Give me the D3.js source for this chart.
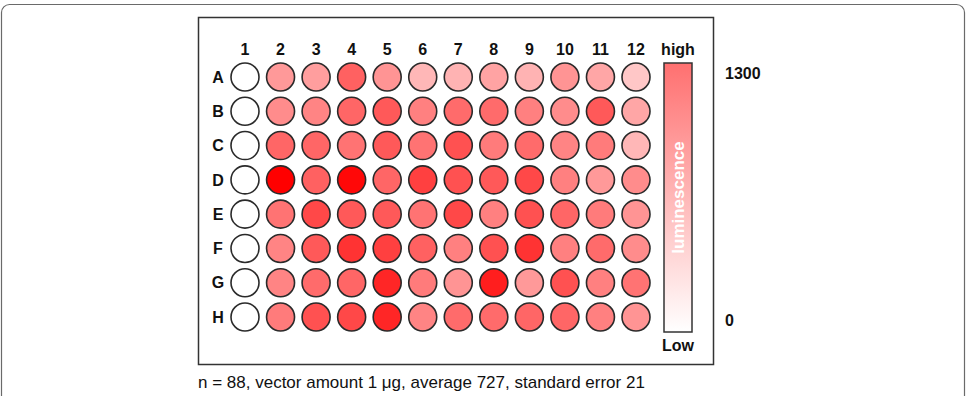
<!DOCTYPE html>
<html>
<head>
<meta charset="utf-8">
<script src="https://cdn.jsdelivr.net/npm/d3@7"></script>
<style>
	body { margin: 0; background: #fff; }
	svg { display: block; font-family: "Liberation Sans", Arial, Helvetica, sans-serif; }
	.lab { font-weight: bold; font-size: 16px; fill: #111; }
</style>
</head>
<body>
<svg id="plate" width="967" height="396"></svg>
<script>
// plate layout
let rows = ["A", "B", "C", "D", "E", "F", "G", "H"],
	cols = ["1", "2", "3", "4", "5", "6", "7", "8", "9", "10", "11", "12"];

// luminescence per well, row by row (column 1 = no vector)
let rowA = [0, 520, 495, 805, 545, 365, 390, 470, 390, 545, 455, 285],
	rowB = [0, 585, 625, 780, 845, 650, 755, 755, 650, 585, 845, 455],
	rowC = [0, 780, 780, 715, 845, 715, 885, 675, 755, 625, 675, 365],
	rowD = [0, 1300, 805, 1260, 780, 975, 885, 845, 935, 650, 520, 585],
	rowE = [0, 715, 935, 845, 845, 715, 935, 650, 885, 780, 675, 545],
	rowF = [0, 625, 845, 1040, 975, 805, 650, 885, 1040, 650, 755, 585],
	rowG = [0, 625, 755, 780, 1105, 675, 545, 1145, 520, 885, 650, 715],
	rowH = [0, 675, 885, 935, 1105, 625, 755, 755, 780, 780, 650, 545];

let scaleMin = 0, scaleMax = 1300;
let caption = "n = 88, vector amount 1 \u03bcg, average 727, standard error 21";

let svg = d3.select("svg#plate");

let wells = [];
[rowA, rowB, rowC, rowD, rowE, rowF, rowG, rowH].forEach(function(vals, i) {
	vals.forEach(function(v, j) { wells.push({ row: rows[i], col: cols[j], value: v }); });
});

let x = d3.scalePoint().domain(cols).range([245, 636]),
	y = d3.scalePoint().domain(rows).range([77, 317]);

let color = d3.scaleLinear()
	.domain([scaleMin, scaleMax])
	.range(["#ffffff", "#ff0000"]);

// outer frame (figure panel)
svg.append("rect")
	.attr("x", 1.5).attr("y", 4.5)
	.attr("width", 963).attr("height", 460)
	.attr("rx", 8)
	.attr("fill", "none")
	.attr("stroke", "#6a6a6a")
	.attr("stroke-width", 1.2);

// inner box
svg.append("rect")
	.attr("x", 198.5).attr("y", 17.5)
	.attr("width", 515).attr("height", 347)
	.attr("fill", "#fff")
	.attr("stroke", "#333")
	.attr("stroke-width", 1.5);

// column labels
svg.selectAll("text.col")
	.data(cols)
	.enter().append("text")
	.attr("class", "lab col")
	.attr("x", function(d) { return x(d); })
	.attr("y", 55)
	.attr("text-anchor", "middle")
	.text(function(d) { return d; });

// row labels
svg.selectAll("text.row")
	.data(rows)
	.enter().append("text")
	.attr("class", "lab row")
	.attr("x", 218)
	.attr("y", function(d) { return y(d); })
	.attr("dy", "0.36em")
	.attr("text-anchor", "middle")
	.text(function(d) { return d; });

// wells
svg.selectAll("circle.well")
	.data(wells)
	.enter().append("circle")
	.attr("class", "well")
	.attr("cx", function(d) { return x(d.col); })
	.attr("cy", function(d) { return y(d.row); })
	.attr("r", 14)
	.attr("fill", function(d) { return color(d.value); })
	.attr("stroke", "#2a2a2a")
	.attr("stroke-width", 1.6);

// colour bar
let barY = d3.scaleLinear().domain([scaleMin, scaleMax]).range([332, 63]),
	tickY = d3.scaleLinear().domain([scaleMin, scaleMax]).range([320, 73]);

let grad = svg.append("defs").append("linearGradient")
	.attr("id", "lum")
	.attr("x1", 0).attr("y1", 1).attr("x2", 0).attr("y2", 0);
grad.append("stop").attr("offset", "0%").attr("stop-color", "#ffffff");
grad.append("stop").attr("offset", "100%").attr("stop-color", "#ff7070");

svg.append("rect")
	.attr("x", 664).attr("y", barY(scaleMax))
	.attr("width", 28).attr("height", barY(scaleMin) - barY(scaleMax))
	.attr("fill", "url(#lum)")
	.attr("stroke", "#333")
	.attr("stroke-width", 1.5);

svg.append("text")
	.attr("transform", "translate(684," + (barY(scaleMin) + barY(scaleMax)) / 2 + ") rotate(-90)")
	.attr("text-anchor", "middle")
	.style("font-weight", "bold")
	.style("font-size", "17px")
	.attr("fill", "#fff")
	.text("luminescence");

svg.append("text").attr("class", "lab")
	.attr("x", 678).attr("y", 55)
	.attr("text-anchor", "middle")
	.text("high");

svg.append("text").attr("class", "lab")
	.attr("x", 678).attr("y", 351)
	.attr("text-anchor", "middle")
	.text("Low");

svg.selectAll("text.tick")
	.data([scaleMax, scaleMin])
	.enter().append("text")
	.attr("class", "lab tick")
	.attr("x", 725)
	.attr("y", function(d) { return tickY(d); })
	.attr("dy", "0.36em")
	.text(function(d) { return d; });

// caption
svg.append("text")
	.attr("x", 198).attr("y", 388)
	.style("font-size", "17px")
	.attr("fill", "#111")
	.text(caption);
</script>
</body>
</html>
